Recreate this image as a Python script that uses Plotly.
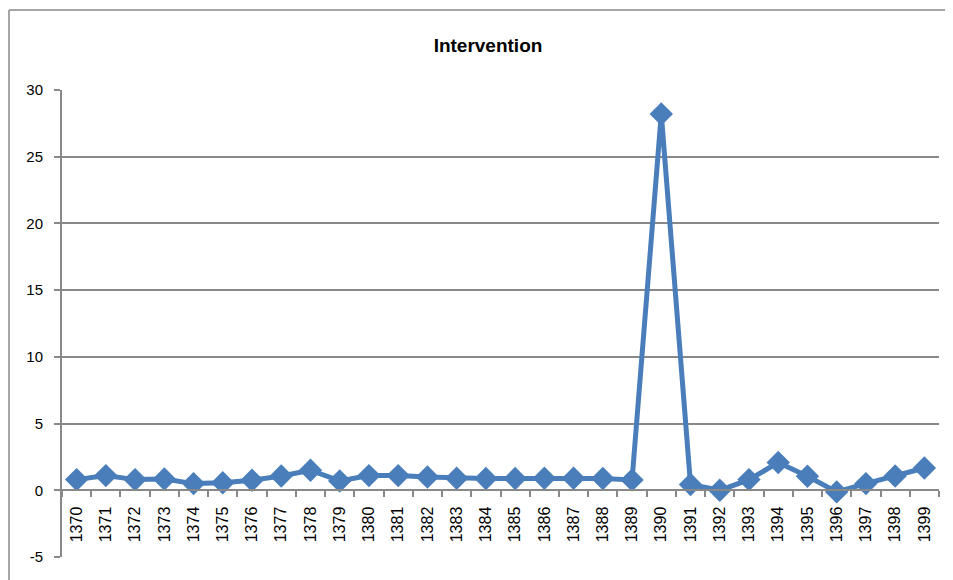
import plotly.graph_objects as go

years = [str(y) for y in range(1370, 1400)]
values = [0.8, 1.1, 0.8, 0.85, 0.5, 0.57, 0.75, 1.07, 1.5, 0.7,
          1.1, 1.1, 1.0, 0.9, 0.88, 0.88, 0.9, 0.9, 0.88, 0.78,
          28.2, 0.43, 0.0, 0.8, 2.08, 1.05, -0.12, 0.5, 1.07, 1.67]
y_ticks = [-5, 0, 5, 10, 15, 20, 25, 30]
y_tick_text = ["-5", "0", "5", "10", "15", "20", "25", "30"]
title = "Intervention"

color = "#4A7EBB"
font = "Liberation Sans"

fig = go.Figure()
fig.add_trace(go.Scatter(
    x=years, y=values, mode="lines+markers",
    line=dict(color=color, width=5),
    marker=dict(symbol="diamond", size=18, color=color),
    showlegend=False, cliponaxis=False,
))

# page has an 8px body margin; figure coordinates are page minus 8
W, H = 945, 572
ml, mr, mt, mb = 54, 14, 82, 23
pw, ph = W - ml - mr, H - mt - mb

fig.update_layout(
    width=W, height=H,
    margin=dict(l=ml, r=mr, t=mt, b=mb, pad=0),
    paper_bgcolor="white", plot_bgcolor="white",
    font=dict(family=font, size=15, color="black"),
    title=dict(text="<b>" + title + "</b>", x=480 / W, xanchor="center",
               y=1 - 37 / H, yanchor="middle", font=dict(size=19, family=font)),
    xaxis=dict(
        type="category", range=[-0.5, len(years) - 0.5],
        anchor="free", position=5 / 35,
        showline=True, linecolor="#888888", linewidth=2,
        ticks="outside", ticklen=6, tickcolor="#888888", tickwidth=1.5,
        tickson="boundaries", tickangle=-90, showgrid=False,
        tickfont=dict(size=16, family=font), zeroline=False,
        ticklabelstandoff=9,
    ),
    yaxis=dict(
        range=[-5, 30], tickvals=y_ticks, ticktext=y_tick_text, showgrid=True,
        gridcolor="#888888", gridwidth=1.5,
        showline=True, linecolor="#888888", linewidth=2,
        ticks="outside", ticklen=6, tickcolor="#888888", tickwidth=1.5,
        zeroline=False, tickfont=dict(size=15, family=font),
        ticklabelstandoff=8,
    ),
)

# outer chart border (left and top visible)
x0 = (1 - ml) / pw
y1 = (H - mb - 2) / ph
fig.add_shape(type="line", xref="paper", yref="paper", x0=x0, x1=x0, y0=-0.2, y1=y1,
              line=dict(color="#888888", width=1.5))
fig.add_shape(type="line", xref="paper", yref="paper", x0=x0, x1=1.1, y0=y1, y1=y1,
              line=dict(color="#888888", width=1.5))

fig.write_html("out.html")
